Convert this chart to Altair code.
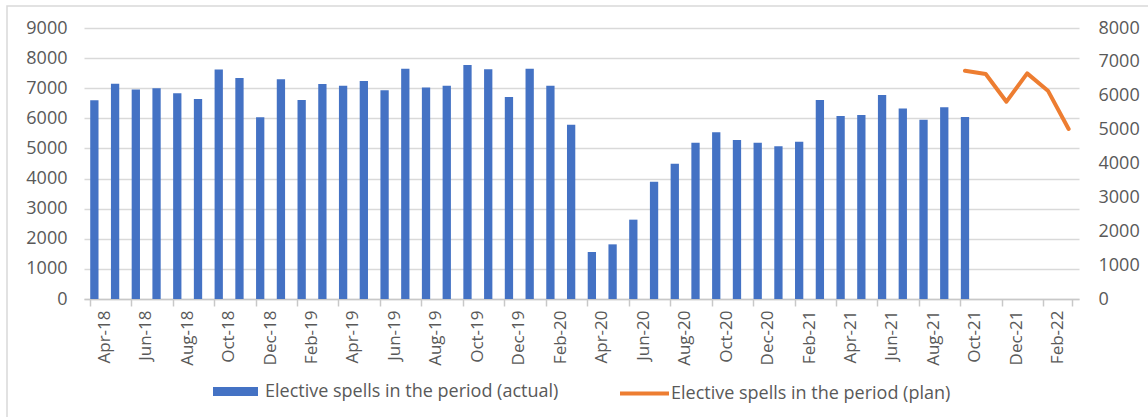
import altair as alt
import pandas as pd

months = ["Apr-18", "May-18", "Jun-18", "Jul-18", "Aug-18", "Sep-18", "Oct-18", "Nov-18", "Dec-18", "Jan-19", "Feb-19", "Mar-19",
          "Apr-19", "May-19", "Jun-19", "Jul-19", "Aug-19", "Sep-19", "Oct-19", "Nov-19", "Dec-19", "Jan-20", "Feb-20", "Mar-20",
          "Apr-20", "May-20", "Jun-20", "Jul-20", "Aug-20", "Sep-20", "Oct-20", "Nov-20", "Dec-20", "Jan-21", "Feb-21", "Mar-21",
          "Apr-21", "May-21", "Jun-21", "Jul-21", "Aug-21", "Sep-21", "Oct-21", "Nov-21", "Dec-21", "Jan-22", "Feb-22", "Mar-22"]

actual = [6600, 7150, 6960, 7000, 6830, 6640, 7620, 7340, 6040, 7300, 6610, 7140,
          7085, 7240, 6930, 7650, 7020, 7085, 7770, 7630, 6710, 7650, 7085, 5790,
          1560, 1815, 2635, 3895, 4495, 5190, 5535, 5280, 5190, 5070, 5225, 6610,
          6080, 6110, 6775, 6330, 5955, 6365, 6045]

plan_months = ["Oct-21", "Nov-21", "Dec-21", "Jan-22", "Feb-22", "Mar-22"]
plan = [6740, 6640, 5825, 6660, 6150, 5020]

tick_labels = months[0::2]
actual_name = "Elective spells in the period (actual)"
plan_name = "Elective spells in the period (plan)"

W, H = 995, 271
step = W / len(months)
FONT = "Open Sans"
GREY = "#595959"
LINEC = "#d9d9d9"

bars_df = pd.DataFrame({"month": months[:len(actual)], "value": actual, "series": actual_name})
plan_df = pd.DataFrame({"month": plan_months, "value": plan, "series": plan_name})
frame_df = pd.DataFrame({"a": [0]})

xscale = alt.Scale(domain=months, paddingInner=0.6, paddingOuter=0.3)

frame = alt.Chart(frame_df).mark_rect(filled=False, stroke=LINEC, strokeWidth=1.5).encode(
    x=alt.value(-77), x2=alt.value(1300), y=alt.value(-22), y2=alt.value(500)
)

bars = alt.Chart(bars_df).mark_bar(color="#4472C4").encode(
    x=alt.X("month:N", sort=months, scale=xscale,
            axis=alt.Axis(orient="bottom", values=tick_labels, bandPosition=0, labelOffset=step / 2,
                          labelAngle=-90, labelPadding=4, tickSize=7, tickColor="#c8c8c8", tickWidth=1.5,
                          domainColor="#c8c8c8", domainWidth=1.5, grid=False, title=None,
                          labelFont=FONT, labelFontSize=17, labelColor=GREY)),
    y=alt.Y("value:Q", scale=alt.Scale(domain=[0, 9000]),
            axis=alt.Axis(values=list(range(0, 10000, 1000)), format="d", grid=True, gridColor=LINEC,
                          gridWidth=1.5, domain=False, ticks=False, labelPadding=17, title=None,
                          labelFont=FONT, labelFontSize=18, labelColor=GREY)),
    fill=alt.Fill("series:N", scale=alt.Scale(domain=[actual_name], range=["#4472C4"]),
                  legend=alt.Legend(orient="none", legendX=129, legendY=341, title=None,
                                    symbolType="M-1,-0.2H1V0.2H-1Z", symbolSize=2025, symbolStrokeWidth=0,
                                    labelFont=FONT, labelFontSize=18, labelColor=GREY, labelOffset=7,
                                    padding=0, labelLimit=0)),
)

line = alt.Chart(plan_df).mark_line(strokeWidth=4, strokeCap="round", strokeJoin="round").encode(
    x=alt.X("month:N", sort=months, scale=xscale,
            axis=alt.Axis(orient="bottom", values=["Mar-22"], bandPosition=1, labels=False, domain=False,
                          tickSize=7, tickColor="#c8c8c8", tickWidth=1.5, grid=False, title=None)),
    y=alt.Y("value:Q", scale=alt.Scale(domain=[0, 8000]),
            axis=alt.Axis(orient="right", values=list(range(0, 9000, 1000)), format="d", grid=False,
                          domain=False, ticks=False, labelPadding=19, title=None,
                          labelFont=FONT, labelFontSize=18, labelColor=GREY)),
    stroke=alt.Stroke("series:N", scale=alt.Scale(domain=[plan_name], range=["#ED7D31"]),
                      legend=alt.Legend(orient="none", legendX=534, legendY=339, title=None,
                                        symbolType="stroke", symbolSize=2401, symbolStrokeWidth=4,
                                        labelFont=FONT, labelFontSize=18, labelColor=GREY, labelOffset=0,
                                        padding=0, labelLimit=0)),
)

chart = alt.layer(frame, bars, line).resolve_scale(
    y="independent", fill="independent", stroke="independent"
).resolve_axis(x="independent", y="independent").properties(
    width=W, height=H,
    autosize=alt.AutoSizeParams(type="none"),
    padding={"left": 84, "top": 28, "right": 69, "bottom": 118},
    background="white",
).configure_view(stroke=None)

chart.save("out.html", embed_options={"renderer": "svg", "actions": False})
